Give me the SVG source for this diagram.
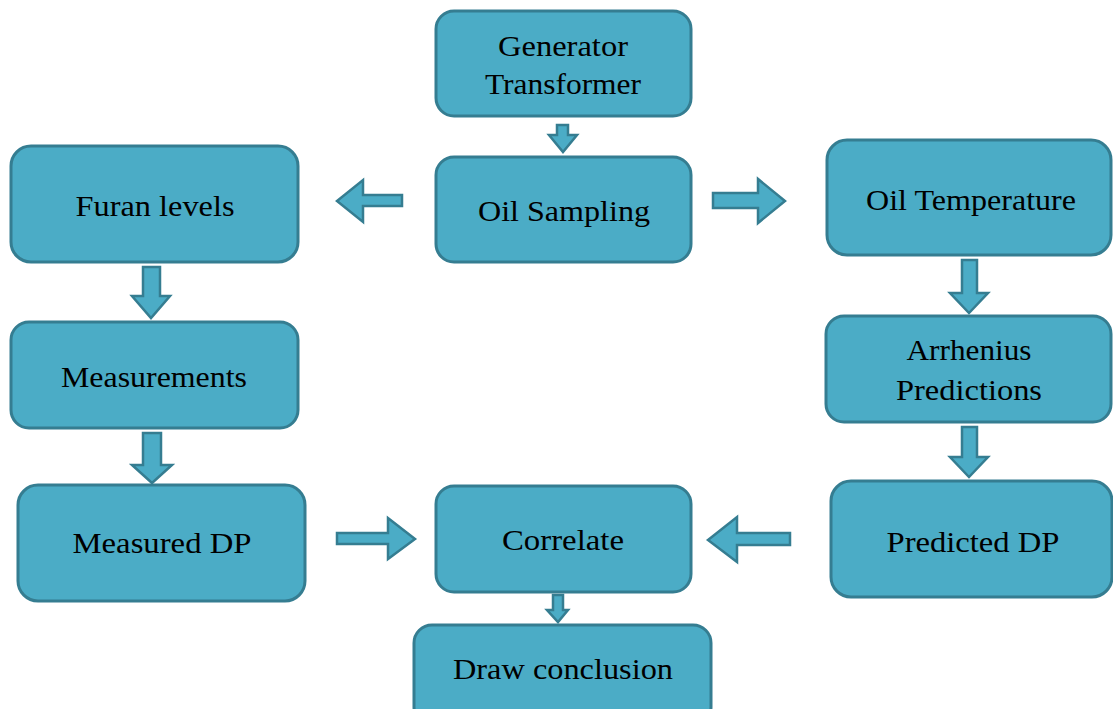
<svg xmlns="http://www.w3.org/2000/svg" width="1113" height="709" viewBox="0 0 1113 709">
  <style>
    .box { fill: #4bacc6; stroke: #357d91; stroke-width: 3; }
    .arrow { fill: #4bacc6; stroke: #357d91; stroke-width: 2.5; stroke-linejoin: miter; }
    .label { font-family: "Liberation Serif", "Times New Roman", serif; font-size: 29px; fill: #000; text-anchor: middle; }
  </style>
  <rect width="1113" height="709" fill="#ffffff"/>

  <g id="connectors">
    <!-- Generator Transformer -> Oil Sampling -->
    <polygon class="arrow" points="557,125 568,125 568,135 577,135 563,152 549,135 557,135"/>
    <!-- Oil Sampling -> Furan levels -->
    <polygon class="arrow" points="402,195 402,206 363,206 363,222 337,201 363,180 363,195"/>
    <!-- Oil Sampling -> Oil Temperature -->
    <polygon class="arrow" points="713,193 758,193 758,179 785,201 758,223 758,208 713,208"/>
    <!-- Oil Temperature -> Arrhenius Predictions -->
    <polygon class="arrow" points="962,260 977,260 977,293 988,293 969,313 950,293 962,293"/>
    <!-- Arrhenius Predictions -> Predicted DP -->
    <polygon class="arrow" points="962,427 977,427 977,457 988,457 969,477 950,457 962,457"/>
    <!-- Furan levels -> Measurements -->
    <polygon class="arrow" points="143,267 160,267 160,296 170,296 151,318 132,296 143,296"/>
    <!-- Measurements -> Measured DP -->
    <polygon class="arrow" points="143,433 161,433 161,465 172,465 152,483 132,465 143,465"/>
    <!-- Measured DP -> Correlate -->
    <polygon class="arrow" points="337,533 388,533 388,518 415,539 388,559 388,544 337,544"/>
    <!-- Predicted DP -> Correlate -->
    <polygon class="arrow" points="790,533 790,545 737,545 737,562 708,540 737,517 737,533"/>
    <!-- Correlate -> Draw conclusion -->
    <polygon class="arrow" points="553,595 563,595 563,610 568,610 558,622 547,610 553,610"/>
  </g>

  <g id="node-generator-transformer">
    <rect class="box" x="436" y="11" width="255" height="105" rx="18"/>
    <text class="label" x="563" y="56" textLength="130" lengthAdjust="spacingAndGlyphs">Generator</text>
    <text class="label" x="563" y="94" textLength="156" lengthAdjust="spacingAndGlyphs">Transformer</text>
  </g>

  <g id="node-oil-sampling">
    <rect class="box" x="436" y="157" width="255" height="105" rx="18"/>
    <text class="label" x="564" y="221" textLength="172" lengthAdjust="spacingAndGlyphs">Oil Sampling</text>
  </g>

  <g id="node-furan-levels">
    <rect class="box" x="11" y="146" width="287" height="116" rx="20"/>
    <text class="label" x="155" y="216" textLength="159" lengthAdjust="spacingAndGlyphs">Furan levels</text>
  </g>

  <g id="node-oil-temperature">
    <rect class="box" x="827" y="140" width="284" height="115" rx="20"/>
    <text class="label" x="971" y="210" textLength="210" lengthAdjust="spacingAndGlyphs">Oil Temperature</text>
  </g>

  <g id="node-arrhenius-predictions">
    <rect class="box" x="826" y="316" width="285" height="106" rx="18"/>
    <text class="label" x="969" y="360" textLength="125" lengthAdjust="spacingAndGlyphs">Arrhenius</text>
    <text class="label" x="969" y="400" textLength="146" lengthAdjust="spacingAndGlyphs">Predictions</text>
  </g>

  <g id="node-measurements">
    <rect class="box" x="11" y="322" width="287" height="106" rx="18"/>
    <text class="label" x="154" y="387" textLength="186" lengthAdjust="spacingAndGlyphs">Measurements</text>
  </g>

  <g id="node-measured-dp">
    <rect class="box" x="18" y="485" width="287" height="116" rx="20"/>
    <text class="label" x="162" y="553" textLength="179" lengthAdjust="spacingAndGlyphs">Measured DP</text>
  </g>

  <g id="node-correlate">
    <rect class="box" x="436" y="486" width="255" height="106" rx="18"/>
    <text class="label" x="563" y="550" textLength="122" lengthAdjust="spacingAndGlyphs">Correlate</text>
  </g>

  <g id="node-predicted-dp">
    <rect class="box" x="831" y="481" width="281" height="116" rx="20"/>
    <text class="label" x="973" y="552" textLength="173" lengthAdjust="spacingAndGlyphs">Predicted DP</text>
  </g>

  <g id="node-draw-conclusion">
    <rect class="box" x="414" y="625" width="297" height="100" rx="18"/>
    <text class="label" x="563" y="679" textLength="220" lengthAdjust="spacingAndGlyphs">Draw conclusion</text>
  </g>
</svg>
